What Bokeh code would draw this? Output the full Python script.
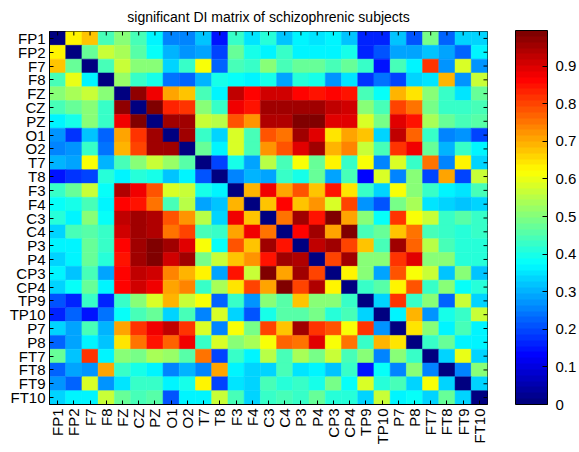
import math
from bokeh.plotting import figure
from bokeh.models import (ColumnDataSource, LinearColorMapper, ColorBar, FixedTicker, FactorRange)
from bokeh.transform import transform
from bokeh.embed import file_html
from bokeh.resources import INLINE

labels = ["FP1", "FP2", "F7", "F8", "FZ", "CZ", "PZ", "O1", "O2", "T7", "T8", "F3", "F4",
          "C3", "C4", "P3", "P4", "CP3", "CP4", "TP9", "TP10", "P7", "P8", "FT7", "FT8",
          "FT9", "FT10"]

r_fp1 = [0, .63, .68, .45, .50, .44, .37, .25, .26, .32, .15, .42, .35, .41, .32, .37, .35, .36, .32, .17, .17, .32, .21, .49, .22, .33, .33]
r_fp2 = [.63, 0, .48, .57, .53, .46, .38, .30, .27, .28, .20, .47, .40, .37, .43, .37, .37, .36, .39, .16, .21, .28, .28, .32, .28, .23, .36]
r_f7 = [.68, .48, 0, .45, .56, .50, .51, .33, .42, .62, .22, .44, .42, .50, .45, .48, .48, .45, .47, .42, .14, .45, .37, .82, .27, .58, .27]
r_f8 = [.45, .60, .36, 0, .52, .43, .40, .24, .22, .31, .40, .38, .37, .39, .28, .41, .39, .27, .35, .18, .24, .20, .33, .35, .69, .27, .57]
r_fz = [.50, .54, .56, .50, 0, .97, .88, .70, .68, .45, .37, .93, .87, .91, .91, .86, .85, .87, .85, .44, .38, .69, .65, .50, .43, .35, .48]
r_cz = [.45, .47, .50, .43, .97, 0, .99, .83, .82, .50, .42, .88, .84, .95, .96, .96, .95, .92, .91, .50, .45, .80, .76, .49, .43, .43, .45]
r_pz = [.37, .39, .50, .42, .88, .99, 0, .95, .95, .56, .55, .78, .72, .94, .94, 1.0, 1.0, .89, .90, .59, .49, .89, .84, .54, .47, .44, .46]
r_o1 = [.27, .18, .32, .22, .70, .82, .95, 0, .95, .43, .33, .58, .45, .78, .76, .95, .90, .64, .70, .68, .33, .92, .77, .43, .26, .27, .20]
r_o2 = [.26, .27, .43, .24, .69, .80, .95, .95, 0, .47, .37, .58, .45, .72, .79, .90, .95, .69, .74, .57, .45, .81, .88, .47, .31, .42, .36]
r_t7 = [.31, .28, .62, .31, .45, .50, .56, .52, .46, 0, .20, .40, .29, .55, .45, .61, .48, .63, .43, .62, .26, .58, .43, .76, .26, .63, .33]
r_t8 = [.15, .18, .20, .41, .37, .41, .40, .32, .37, .21, 0, .26, .31, .29, .43, .39, .47, .28, .44, .13, .58, .26, .50, .20, .70, .19, .57]
r_f3 = [.43, .48, .56, .38, .94, .88, .79, .58, .57, .39, .37, 0, .69, .88, .70, .78, .68, .84, .64, .43, .33, .61, .50, .42, .37, .35, .45]
r_f4 = [.38, .40, .44, .37, .86, .84, .76, .44, .55, .29, .32, .69, 0, .67, .87, .67, .73, .58, .80, .27, .21, .49, .54, .35, .33, .32, .34]
r_c3 = [.41, .37, .50, .38, .92, .95, .94, .78, .73, .55, .33, .88, .67, 0, .75, .95, .85, 1.0, .70, .51, .38, .81, .62, .56, .42, .46, .42]
r_c4 = [.34, .45, .46, .42, .91, .96, .94, .76, .80, .44, .42, .70, .88, .75, 0, .86, .96, .70, 1.0, .45, .47, .67, .76, .45, .42, .41, .42]
r_p3 = [.36, .37, .48, .42, .87, .96, 1.0, .95, .90, .62, .38, .79, .67, .96, .85, 0, .93, .95, .80, .67, .45, .95, .77, .55, .45, .41, .41]
r_p4 = [.34, .37, .48, .41, .84, .95, 1.0, .91, .95, .49, .56, .67, .73, .84, .96, .94, 0, .80, .95, .50, .50, .81, .90, .50, .50, .41, .41]
r_cp3 = [.36, .32, .44, .28, .87, .92, .91, .74, .69, .63, .29, .84, .57, 1.0, .70, .95, .80, 0, .63, .50, .29, .79, .62, .56, .32, .50, .32]
r_cp4 = [.34, .38, .47, .37, .86, .91, .88, .70, .74, .43, .54, .64, .80, .70, 1.0, .80, .94, .63, 0, .42, .46, .63, .79, .43, .50, .38, .41]
r_tp9 = [.21, .16, .42, .17, .43, .50, .58, .69, .56, .62, .22, .43, .27, .51, .46, .68, .50, .50, .42, 0, .33, .81, .42, .50, .23, .57, .33]
r_tp10 = [.17, .22, .14, .24, .38, .44, .48, .33, .44, .26, .58, .33, .21, .40, .46, .46, .49, .41, .45, .33, 0, .36, .69, .27, .40, .43, .57]
r_p7 = [.33, .28, .45, .30, .70, .81, .88, .92, .81, .58, .26, .61, .49, .80, .67, .95, .81, .79, .62, .81, .27, 0, .65, .51, .36, .44, .36]
r_p8 = [.22, .28, .37, .32, .65, .76, .84, .77, .88, .43, .58, .51, .54, .62, .77, .76, .89, .61, .76, .43, .69, .65, 0, .43, .47, .37, .37]
r_ft7 = [.48, .32, .82, .36, .50, .49, .54, .52, .46, .76, .20, .42, .36, .55, .45, .53, .49, .57, .44, .51, .26, .50, .42, 0, .34, .60, .34]
r_ft8 = [.22, .28, .27, .70, .43, .40, .37, .26, .31, .25, .70, .37, .33, .33, .44, .35, .37, .32, .43, .14, .38, .26, .50, .25, 0, .25, .50]
r_ft9 = [.27, .23, .58, .27, .35, .42, .42, .37, .40, .63, .19, .35, .33, .45, .41, .42, .40, .49, .38, .58, .41, .44, .33, .61, .34, 0, .34]
r_ft10 = [.34, .36, .37, .57, .47, .44, .46, .21, .37, .36, .57, .45, .34, .43, .44, .42, .47, .41, .41, .33, .56, .37, .38, .34, .48, .34, 0]

rows = [r_fp1, r_fp2, r_f7, r_f8, r_fz, r_cz, r_pz, r_o1, r_o2, r_t7, r_t8, r_f3, r_f4,
        r_c3, r_c4, r_p3, r_p4, r_cp3, r_cp4, r_tp9, r_tp10, r_p7, r_p8, r_ft7, r_ft8,
        r_ft9, r_ft10]

cb_ticks = [0, 0.1, 0.2, 0.3, 0.4, 0.5, 0.6, 0.7, 0.8, 0.9]


def jet(n):
    out = []
    for i in range(n):
        t = i / (n - 1)
        r = max(0.0, min(1.0, min(4 * t - 1.5, -4 * t + 4.5)))
        g = max(0.0, min(1.0, min(4 * t - 0.5, -4 * t + 3.5)))
        b = max(0.0, min(1.0, min(4 * t + 0.5, -4 * t + 2.5)))
        out.append("#%02x%02x%02x" % (round(r * 255), round(g * 255), round(b * 255)))
    return out


xs, ys, vs = [], [], []
for i, row in enumerate(rows):
    for j, v in enumerate(row):
        xs.append(labels[j])
        ys.append(labels[i])
        vs.append(v)
src = ColumnDataSource(dict(x=xs, y=ys, v=vs))

mapper = LinearColorMapper(palette=jet(64), low=0, high=0.995)

FONT = "Liberation Sans"

p = figure(width=579, height=452, x_range=FactorRange(factors=labels),
           y_range=FactorRange(factors=labels[::-1]), output_backend="svg",
           toolbar_location=None, title="significant DI matrix of schizophrenic subjects",
           min_border_left=49, min_border_right=92, min_border_top=30, min_border_bottom=48)
p.title.text_font = FONT
p.title.text_font_size = "14px"
p.title.text_font_style = "normal"
p.title.align = "center"
p.title.text_color = "black"
p.title.standoff = 13

p.rect(x="x", y="y", width=1, height=1, source=src,
       fill_color=transform("v", mapper), line_color=transform("v", mapper), line_width=0.5)

# inward tick marks on the top and right edges of the box (as in the original)
tick_len_y = 4 / 13.85
tick_len_x = 4 / 16.2
top_src = ColumnDataSource(dict(
    x=labels,
    y0=[[labels[0], 0.5]] * len(labels),
    y1=[[labels[0], 0.5 - tick_len_y]] * len(labels)))
p.segment(x0="x", y0="y0", x1="x", y1="y1", source=top_src, line_color="black", line_width=1)
right_src = ColumnDataSource(dict(
    y=labels,
    x0=[[labels[-1], 0.5]] * len(labels),
    x1=[[labels[-1], 0.5 - tick_len_x]] * len(labels)))
p.segment(x0="x0", y0="y", x1="x1", y1="y", source=right_src, line_color="black", line_width=1)

p.grid.visible = False
p.outline_line_color = "black"
p.outline_line_alpha = 1
for ax in (p.xaxis[0], p.yaxis[0]):
    ax.major_tick_in = 4
    ax.major_tick_out = 0
    ax.major_label_text_font = FONT
    ax.major_label_text_font_size = "15px"
    ax.major_label_text_color = "black"
    ax.axis_line_color = "black"
    ax.major_tick_line_color = "black"
    ax.major_label_standoff = 4
p.xaxis.major_label_orientation = math.pi / 2

cb = ColorBar(color_mapper=mapper, ticker=FixedTicker(ticks=cb_ticks), width=32, height=374,
              major_label_text_font=FONT, major_label_text_font_size="15px",
              major_label_text_color="black",
              major_label_overrides={t: ("0" if t == 0 else str(t)) for t in cb_ticks},
              major_tick_in=5, major_tick_out=0, major_tick_line_color="black",
              bar_line_color="black", border_line_color=None, background_fill_alpha=0,
              padding=0, margin=0, label_standoff=8, location=(28, 0))
p.add_layout(cb, "right")

open("out.html", "w").write(file_html(p, INLINE))
